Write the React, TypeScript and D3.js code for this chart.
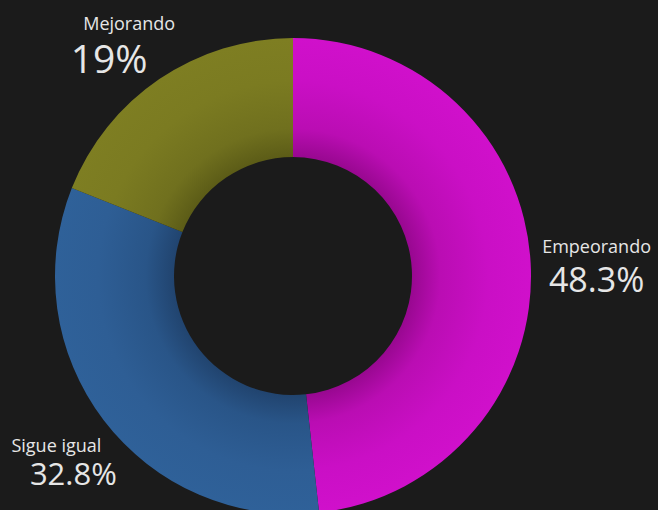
import React, { useEffect } from "react";
import * as d3 from "d3";

const categories = ["Empeorando", "Sigue igual", "Mejorando"];
const values = [48.3, 32.8, 19];
const valueLabels = ["48.3%", "32.8%", "19%"];

const W = 658;
const H = 510;
const CX = 293;
const CY = 276;
const R_OUT = 238;
const R_IN = 119;
const LABEL_R = 290;
const colorsOuter = ["#d010cb", "#2f6199", "#7e7e22"];
const colorsInner = ["#980890", "#21446f", "#5c5c17"];
const pctSizes = [34, 31, 39];
// label layout tweaks (name nudge from centroid, pct shift and gap)
const nameNudge: [number, number][] = [[14, -7], [-6, 0], [-1, -6]];
const pctShift = [0, 17, -20];
const pctGap = [39, 33, 43];

export default function App() {
  useEffect(() => {
    document.body.style.margin = "0";
    document.body.style.background = "#1b1b1b";
    document.body.style.overflow = "hidden";
  }, []);

  const pie = d3
    .pie<number>()
    .sort(null)
    .value((d) => d);
  const arcs = pie(values);
  const arcGen = d3.arc<d3.PieArcDatum<number>>().innerRadius(R_IN).outerRadius(R_OUT);
  const labelArc = d3.arc<d3.PieArcDatum<number>>().innerRadius(LABEL_R).outerRadius(LABEL_R);

  return (
    <svg width={W} height={H} style={{ display: "block", background: "#1b1b1b" }}>
      <defs>
        {categories.map((c, i) => (
          <radialGradient
            key={c}
            id={`g${i}`}
            gradientUnits="userSpaceOnUse"
            cx={0}
            cy={0}
            r={R_OUT}
          >
            <stop offset={R_IN / R_OUT} stopColor={colorsInner[i]} />
            <stop offset={0.62} stopColor={d3.interpolateRgb(colorsInner[i], colorsOuter[i])(0.6)} />
            <stop offset={0.82} stopColor={d3.interpolateRgb(colorsInner[i], colorsOuter[i])(0.9)} />
            <stop offset={1} stopColor={colorsOuter[i]} />
          </radialGradient>
        ))}
      </defs>
      <rect width={W} height={H} fill="#1b1b1b" />
      <g transform={`translate(${CX},${CY})`}>
        {arcs.map((a, i) => (
          <path key={categories[i]} d={arcGen(a) || ""} fill={`url(#g${i})`} />
        ))}
        {arcs.map((a, i) => {
          const [cx, cy] = labelArc.centroid(a);
          const x = cx + nameNudge[i][0];
          const y = cy + nameNudge[i][1];
          return (
            <g key={"l" + i} fontFamily="'Open Sans', sans-serif" fill="#e6e6e6" textAnchor="middle">
              <text x={x} y={y} fontSize={18}>
                {categories[i]}
              </text>
              <text x={x + pctShift[i]} y={y + pctGap[i]} fontSize={pctSizes[i]}>
                {valueLabels[i]}
              </text>
            </g>
          );
        })}
      </g>
    </svg>
  );
}
